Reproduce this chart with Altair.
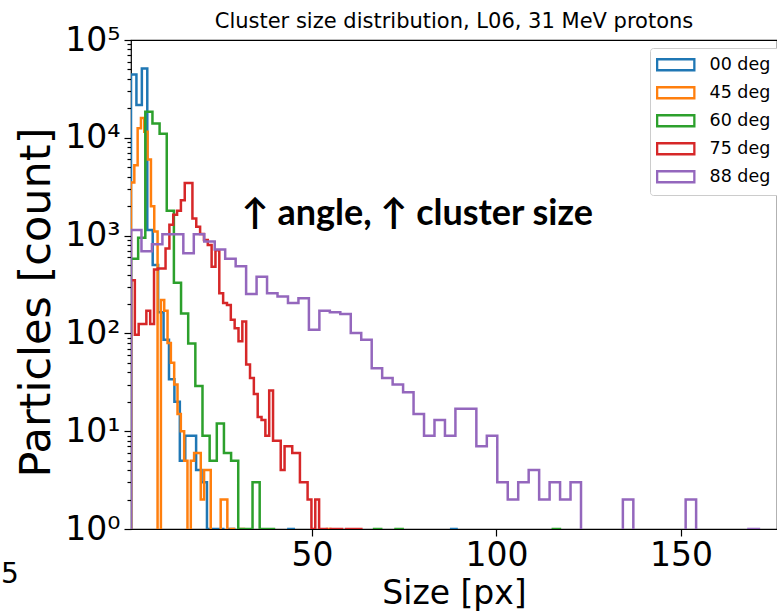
import altair as alt
import numpy as np
import pandas as pd

# ---------------- data ----------------
SERIES = ["00 deg", "45 deg", "60 deg", "75 deg", "88 deg"]
COLORS = ["#1f77b4", "#ff7f0e", "#2ca02c", "#d62728", "#9467bd"]
N_BINS = 60
BIN_MIN = [1.0, 1.0, 1.0, 1.0, 1.0]
BIN_MAX = [89.2, 55.0, 117.2, 63.4, 171.1]

COUNTS_00 = [44500, 21600, 51000, 1140, 500, 165, 86, 34, 20, 5,
             9, 9, 4, 3, 1, 1, 1, 0, 1, 0,
             0, 0, 0, 0, 0, 0, 0, 0, 0, 1,
             0, 0, 0, 0, 0, 0, 0, 0, 0, 0,
             0, 0, 0, 0, 0, 0, 0, 0, 0, 0,
             0, 0, 0, 0, 0, 0, 0, 0, 0, 1]
COUNTS_45 = [3500, 5250, 12500, 15900, 11500, 6000, 2000, 1100, 0, 220,
             170, 80, 50, 30, 15, 10, 5, 0, 5, 6,
             6, 2, 4, 4, 0, 0, 0, 2, 2, 0,
             1, 0, 0, 1, 0, 0, 0, 0, 0, 0,
             0, 0, 0, 0, 0, 0, 0, 0, 0, 0,
             0, 0, 0, 0, 0, 0, 0, 0, 0, 1]
COUNTS_60 = [580, 950, 18500, 14000, 11000, 1800, 330, 160, 79, 29,
             9, 5, 12, 6, 5, 1, 1, 3, 1, 1,
             0, 0, 0, 0, 0, 0, 0, 0, 0, 0,
             0, 0, 0, 0, 1, 0, 0, 1, 0, 0,
             0, 0, 0, 0, 0, 0, 0, 0, 0, 0,
             0, 0, 0, 0, 0, 0, 0, 0, 0, 1]
COUNTS_75 = [350, 97, 125, 125, 170, 125, 450, 460, 460, 740,
             1290, 1630, 1800, 2300, 3450, 3450, 1500, 1230, 1040, 900,
             800, 480, 710, 257, 205, 195, 138, 113, 83, 132,
             48, 35, 24, 14, 13, 9, 26, 8, 8, 4,
             7, 7, 6, 6, 3, 3, 2, 1, 2, 1,
             1, 0, 1, 1, 1, 0, 1, 1, 1, 1]
COUNTS_88 = [1140, 690, 815, 1030, 1030, 660, 1030, 870, 720, 580,
             485, 253, 380, 257, 238, 204, 229, 109, 170, 165,
             158, 101, 86, 44, 35, 30, 25, 15, 9, 13,
             9, 17, 17, 7, 9, 3, 2, 3, 4, 2,
             3, 2, 3, 0, 0, 0, 0, 2, 0, 0,
             0, 0, 0, 2, 0, 0, 0, 0, 0, 1]
ALL_COUNTS = [COUNTS_00, COUNTS_45, COUNTS_60, COUNTS_75, COUNTS_88]

X_DOMAIN = [1, 176]
X_TICKS = [50, 100, 150]
Y_DOMAIN = [1, 100000]
Y_DECADES = [1, 10, 100, 1000, 10000, 100000]
Y_MINOR_MULT = [2, 3, 4, 5, 6, 7, 8, 9]

ANN_TEXT = "\u2191 angle, \u2191 cluster size"
ANN_X = 31.0
ANN_Y = 1650

TITLE = "Cluster size distribution, L06, 31 MeV protons"
BELOW = 0.1  # empty bins fall below the log axis and are clipped

# ---------------- build step outlines of the histograms ----------------
rows = []
for name, lo, hi, counts in zip(SERIES, BIN_MIN, BIN_MAX, ALL_COUNTS):
    edges = np.linspace(lo, hi, N_BINS + 1)
    vals = [c if c > 0 else BELOW for c in counts]
    pts = [(edges[0], BELOW)] + list(zip(edges[:-1], vals)) + [(edges[-1], BELOW)]
    for i, (x, y) in enumerate(pts):
        rows.append({"angle": name, "size": float(x), "count": float(y), "i": i})
df = pd.DataFrame(rows)

y_values = Y_DECADES + [m * d for d in Y_DECADES[:-1] for m in Y_MINOR_MULT]
is_major = "abs(log(datum.value)/LN10 - round(log(datum.value)/LN10)) < 0.001"
label_expr = (f"{is_major} ? '10' + ['\u2070','\u00b9','\u00b2','\u00b3','\u2074','\u2075']"
              "[round(log(datum.value)/LN10)] : ''")

lines = alt.Chart(df).mark_line(interpolate="step-after", clip=True, strokeWidth=2.5).encode(
    x=alt.X("size:Q",
            scale=alt.Scale(domain=X_DOMAIN, nice=False, zero=False),
            axis=alt.Axis(values=X_TICKS, title="Size [px]", labelFontSize=33,
                          titleFontSize=33, tickSize=7, labelPadding=3, titlePadding=5,
                          labelFlush=False, grid=False)),
    y=alt.Y("count:Q",
            scale=alt.Scale(type="log", domain=Y_DOMAIN, nice=False),
            axis=alt.Axis(values=y_values, labelExpr=label_expr, title="Particles [count]",
                          labelFontSize=33, titleFontSize=43, labelPadding=4, titlePadding=6,
                          titleY=262,
                          tickSize={"condition": {"test": is_major, "value": 7}, "value": 4},
                          labelOverlap=False, labelFlush=False, grid=False)),
    color=alt.Color("angle:N", scale=alt.Scale(domain=SERIES, range=COLORS),
                    legend=alt.Legend(title=None, orient="none", legendX=519, legendY=8,
                                      symbolType="M-3.1,-0.92H3.1V0.92H-3.1Z", symbolSize=144,
                                      symbolStrokeWidth=2.3, symbolFillColor="white",
                                      labelFont="DejaVu Sans", labelFontSize=17.5,
                                      labelColor="black", strokeColor="#cccccc",
                                      fillColor="white", cornerRadius=3, padding=8,
                                      rowPadding=7, symbolOffset=9, labelOffset=25)),
    order="i:Q",
)

ann = alt.Chart(pd.DataFrame({"x": [ANN_X], "y": [ANN_Y], "t": [ANN_TEXT]})).mark_text(
    align="left", baseline="middle", font="Lato", fontWeight="bold", fontSize=36, color="black"
).encode(x="x:Q", y="y:Q", text="t:N")

edge = alt.Chart(pd.DataFrame({"t": ["5"]})).mark_text(
    align="left", baseline="middle", font="DejaVu Sans", fontSize=28, color="black"
).encode(x=alt.value(-130), y=alt.value(535), text="t:N")

chart = alt.layer(lines, ann, edge).properties(
    width=646, height=489,
    title=alt.Title(TITLE, font="DejaVu Sans", fontSize=21, fontWeight="normal",
                    color="black", anchor="middle", offset=-8),
    autosize=alt.AutoSizeParams(type="none"),
    padding={"left": 131, "top": 40, "right": 0, "bottom": 83},
).configure_view(stroke="black", strokeWidth=1.2).configure_axis(
    domain=False, tickColor="black", tickWidth=1.2, labelColor="black",
    titleColor="black", labelFont="DejaVu Sans", titleFont="DejaVu Sans",
    titleFontWeight="normal"
)

chart.save("out.html", embed_options={"renderer": "svg", "actions": False})
